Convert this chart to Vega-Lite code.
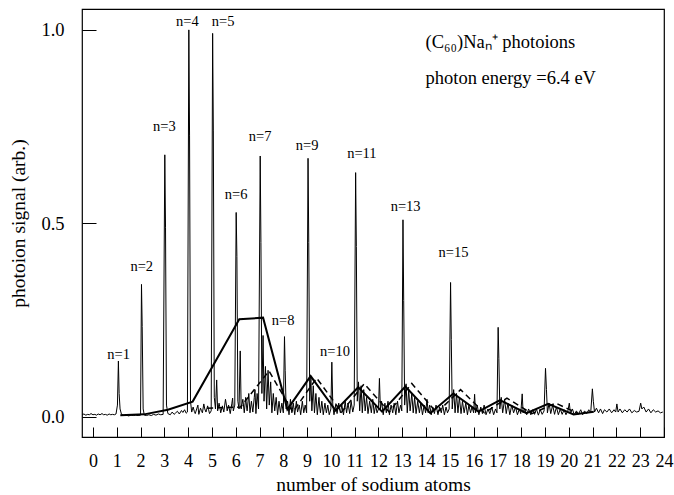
{
  "$schema": "https://vega.github.io/schema/vega-lite/v6.json",
  "width": 582,
  "height": 428,
  "autosize": {"type": "none"},
  "padding": {"left": 82, "top": 9, "right": 10, "bottom": 58},
  "background": "white",
  "config": {
    "view": {"stroke": "black", "strokeWidth": 1.2},
    "font": "Liberation Serif",
    "axis": {"grid": false, "domain": false, "tickColor": "black", "labelColor": "black", "titleColor": "black", "labelFont": "Liberation Serif", "titleFont": "Liberation Serif", "titleFontWeight": "normal", "labelFontSize": 18, "titleFontSize": 19.5}
  },
  "datasets": {
    "spectrum": [
      {"n": -0.45, "s": 0.005}, {"n": -0.38, "s": 0.007}, {"n": -0.3, "s": 0.004}, {"n": -0.22, "s": 0.006}, {"n": -0.15, "s": 0.005}, {"n": -0.08, "s": 0.008}, {"n": 0.0, "s": 0.005}, {"n": 0.08, "s": 0.006}, {"n": 0.15, "s": 0.004}, {"n": 0.22, "s": 0.007}, {"n": 0.3, "s": 0.005}, {"n": 0.38, "s": 0.008}, {"n": 0.45, "s": 0.005}, {"n": 0.52, "s": 0.006}, {"n": 0.6, "s": 0.004}, {"n": 0.68, "s": 0.007}, {"n": 0.75, "s": 0.005}, {"n": 0.82, "s": 0.006}, {"n": 0.9, "s": 0.005}, {"n": 0.97, "s": 0.007},
      {"n": 1.03, "s": 0.03}, {"n": 1.07, "s": 0.144}, {"n": 1.1, "s": 0.06}, {"n": 1.14, "s": 0.02}, {"n": 1.2, "s": 0.006}, {"n": 1.3, "s": 0.003}, {"n": 1.4, "s": 0.004}, {"n": 1.5, "s": 0.002}, {"n": 1.6, "s": 0.004}, {"n": 1.7, "s": 0.003}, {"n": 1.8, "s": 0.004}, {"n": 1.9, "s": 0.003}, {"n": 2.0, "s": 0.004},
      {"n": 2.04, "s": 0.342}, {"n": 2.07, "s": 0.233}, {"n": 2.11, "s": 0.02}, {"n": 2.16, "s": 0.004}, {"n": 2.25, "s": 0.003}, {"n": 2.35, "s": 0.005}, {"n": 2.45, "s": 0.003}, {"n": 2.55, "s": 0.006}, {"n": 2.65, "s": 0.004}, {"n": 2.75, "s": 0.007}, {"n": 2.85, "s": 0.005}, {"n": 2.95, "s": 0.006},
      {"n": 3.02, "s": 0.677}, {"n": 3.05, "s": 0.49}, {"n": 3.09, "s": 0.03}, {"n": 3.15, "s": 0.008}, {"n": 3.25, "s": 0.005}, {"n": 3.33, "s": 0.012}, {"n": 3.41, "s": 0.006}, {"n": 3.48, "s": 0.01}, {"n": 3.55, "s": 0.014}, {"n": 3.63, "s": 0.007}, {"n": 3.72, "s": 0.016}, {"n": 3.78, "s": 0.011}, {"n": 3.85, "s": 0.018}, {"n": 3.92, "s": 0.009}, {"n": 3.97, "s": 0.012},
      {"n": 4.03, "s": 1.0}, {"n": 4.06, "s": 0.728}, {"n": 4.1, "s": 0.04}, {"n": 4.15, "s": 0.012}, {"n": 4.21, "s": 0.025}, {"n": 4.26, "s": 0.014}, {"n": 4.3, "s": 0.008}, {"n": 4.36, "s": 0.02}, {"n": 4.41, "s": 0.03}, {"n": 4.45, "s": 0.006}, {"n": 4.52, "s": 0.022}, {"n": 4.56, "s": 0.016}, {"n": 4.6, "s": 0.01}, {"n": 4.66, "s": 0.033}, {"n": 4.7, "s": 0.02}, {"n": 4.75, "s": 0.012}, {"n": 4.82, "s": 0.028}, {"n": 4.86, "s": 0.018}, {"n": 4.9, "s": 0.008}, {"n": 4.97, "s": 0.015},
      {"n": 5.03, "s": 0.991}, {"n": 5.06, "s": 0.741}, {"n": 5.1, "s": 0.05}, {"n": 5.15, "s": 0.02}, {"n": 5.2, "s": 0.095}, {"n": 5.24, "s": 0.015}, {"n": 5.3, "s": 0.035}, {"n": 5.34, "s": 0.022}, {"n": 5.37, "s": 0.01}, {"n": 5.44, "s": 0.028}, {"n": 5.5, "s": 0.012}, {"n": 5.57, "s": 0.045}, {"n": 5.61, "s": 0.03}, {"n": 5.64, "s": 0.015}, {"n": 5.7, "s": 0.03}, {"n": 5.77, "s": 0.008}, {"n": 5.84, "s": 0.035}, {"n": 5.87, "s": 0.048}, {"n": 5.9, "s": 0.015}, {"n": 5.96, "s": 0.03},
      {"n": 6.02, "s": 0.528}, {"n": 6.05, "s": 0.414}, {"n": 6.09, "s": 0.04}, {"n": 6.14, "s": 0.02}, {"n": 6.19, "s": 0.17}, {"n": 6.23, "s": 0.02}, {"n": 6.3, "s": 0.045}, {"n": 6.36, "s": 0.01}, {"n": 6.42, "s": 0.05}, {"n": 6.45, "s": 0.03}, {"n": 6.48, "s": 0.015}, {"n": 6.55, "s": 0.06}, {"n": 6.6, "s": 0.01}, {"n": 6.66, "s": 0.04}, {"n": 6.72, "s": 0.012}, {"n": 6.78, "s": 0.05}, {"n": 6.81, "s": 0.07}, {"n": 6.85, "s": 0.008}, {"n": 6.9, "s": 0.06}, {"n": 6.96, "s": 0.02},
      {"n": 7.03, "s": 0.674}, {"n": 7.06, "s": 0.45}, {"n": 7.1, "s": 0.06}, {"n": 7.15, "s": 0.21}, {"n": 7.19, "s": 0.04}, {"n": 7.25, "s": 0.13}, {"n": 7.3, "s": 0.02}, {"n": 7.36, "s": 0.12}, {"n": 7.41, "s": 0.03}, {"n": 7.47, "s": 0.09}, {"n": 7.52, "s": 0.01}, {"n": 7.58, "s": 0.06}, {"n": 7.64, "s": 0.015}, {"n": 7.7, "s": 0.05}, {"n": 7.76, "s": 0.005}, {"n": 7.82, "s": 0.04}, {"n": 7.88, "s": 0.01}, {"n": 7.94, "s": 0.035}, {"n": 8.0, "s": 0.01},
      {"n": 8.05, "s": 0.207}, {"n": 8.08, "s": 0.12}, {"n": 8.12, "s": 0.02}, {"n": 8.18, "s": 0.04}, {"n": 8.24, "s": 0.005}, {"n": 8.3, "s": 0.045}, {"n": 8.33, "s": 0.028}, {"n": 8.36, "s": 0.01}, {"n": 8.42, "s": 0.035}, {"n": 8.48, "s": 0.005}, {"n": 8.55, "s": 0.04}, {"n": 8.6, "s": 0.012}, {"n": 8.67, "s": 0.03}, {"n": 8.7, "s": 0.018}, {"n": 8.73, "s": 0.005}, {"n": 8.8, "s": 0.04}, {"n": 8.86, "s": 0.01}, {"n": 8.92, "s": 0.03}, {"n": 8.98, "s": 0.01},
      {"n": 9.04, "s": 0.668}, {"n": 9.07, "s": 0.45}, {"n": 9.11, "s": 0.04}, {"n": 9.16, "s": 0.1}, {"n": 9.2, "s": 0.015}, {"n": 9.26, "s": 0.08}, {"n": 9.31, "s": 0.01}, {"n": 9.37, "s": 0.06}, {"n": 9.43, "s": 0.005}, {"n": 9.5, "s": 0.05}, {"n": 9.53, "s": 0.025}, {"n": 9.56, "s": 0.01}, {"n": 9.62, "s": 0.04}, {"n": 9.68, "s": 0.005}, {"n": 9.75, "s": 0.035}, {"n": 9.81, "s": 0.01}, {"n": 9.87, "s": 0.03}, {"n": 9.93, "s": 0.005}, {"n": 10.0, "s": 0.02},
      {"n": 10.04, "s": 0.141}, {"n": 10.08, "s": 0.03}, {"n": 10.13, "s": 0.005}, {"n": 10.2, "s": 0.03}, {"n": 10.26, "s": 0.008}, {"n": 10.33, "s": 0.035}, {"n": 10.36, "s": 0.02}, {"n": 10.4, "s": 0.01}, {"n": 10.46, "s": 0.03}, {"n": 10.53, "s": 0.005}, {"n": 10.6, "s": 0.04}, {"n": 10.66, "s": 0.01}, {"n": 10.72, "s": 0.035}, {"n": 10.79, "s": 0.008}, {"n": 10.85, "s": 0.04}, {"n": 10.92, "s": 0.012}, {"n": 10.98, "s": 0.03},
      {"n": 11.04, "s": 0.631}, {"n": 11.07, "s": 0.44}, {"n": 11.11, "s": 0.04}, {"n": 11.16, "s": 0.09}, {"n": 11.21, "s": 0.015}, {"n": 11.27, "s": 0.08}, {"n": 11.32, "s": 0.01}, {"n": 11.38, "s": 0.07}, {"n": 11.44, "s": 0.015}, {"n": 11.5, "s": 0.05}, {"n": 11.56, "s": 0.008}, {"n": 11.63, "s": 0.04}, {"n": 11.7, "s": 0.01}, {"n": 11.76, "s": 0.045}, {"n": 11.82, "s": 0.008}, {"n": 11.88, "s": 0.03}, {"n": 11.94, "s": 0.01}, {"n": 12.0, "s": 0.02},
      {"n": 12.04, "s": 0.099}, {"n": 12.08, "s": 0.02}, {"n": 12.13, "s": 0.04}, {"n": 12.2, "s": 0.005}, {"n": 12.27, "s": 0.035}, {"n": 12.33, "s": 0.01}, {"n": 12.4, "s": 0.04}, {"n": 12.46, "s": 0.005}, {"n": 12.53, "s": 0.03}, {"n": 12.6, "s": 0.01}, {"n": 12.66, "s": 0.035}, {"n": 12.73, "s": 0.005}, {"n": 12.8, "s": 0.04}, {"n": 12.86, "s": 0.01}, {"n": 12.93, "s": 0.03}, {"n": 12.98, "s": 0.015},
      {"n": 13.03, "s": 0.509}, {"n": 13.06, "s": 0.3}, {"n": 13.1, "s": 0.03}, {"n": 13.16, "s": 0.085}, {"n": 13.21, "s": 0.01}, {"n": 13.27, "s": 0.07}, {"n": 13.33, "s": 0.015}, {"n": 13.4, "s": 0.06}, {"n": 13.46, "s": 0.01}, {"n": 13.52, "s": 0.05}, {"n": 13.58, "s": 0.008}, {"n": 13.65, "s": 0.04}, {"n": 13.72, "s": 0.01}, {"n": 13.78, "s": 0.035}, {"n": 13.85, "s": 0.005}, {"n": 13.92, "s": 0.03}, {"n": 13.98, "s": 0.01},
      {"n": 14.04, "s": 0.045}, {"n": 14.09, "s": 0.01}, {"n": 14.15, "s": 0.03}, {"n": 14.22, "s": 0.005}, {"n": 14.28, "s": 0.025}, {"n": 14.35, "s": 0.008}, {"n": 14.42, "s": 0.03}, {"n": 14.5, "s": 0.005}, {"n": 14.57, "s": 0.025}, {"n": 14.64, "s": 0.01}, {"n": 14.7, "s": 0.03}, {"n": 14.77, "s": 0.005}, {"n": 14.84, "s": 0.025}, {"n": 14.9, "s": 0.01}, {"n": 14.97, "s": 0.02},
      {"n": 15.03, "s": 0.347}, {"n": 15.06, "s": 0.2}, {"n": 15.1, "s": 0.02}, {"n": 15.16, "s": 0.07}, {"n": 15.22, "s": 0.01}, {"n": 15.28, "s": 0.06}, {"n": 15.34, "s": 0.01}, {"n": 15.4, "s": 0.05}, {"n": 15.47, "s": 0.008}, {"n": 15.53, "s": 0.04}, {"n": 15.6, "s": 0.01}, {"n": 15.67, "s": 0.035}, {"n": 15.74, "s": 0.005}, {"n": 15.8, "s": 0.03}, {"n": 15.87, "s": 0.01}, {"n": 15.93, "s": 0.025}, {"n": 16.0, "s": 0.01},
      {"n": 16.04, "s": 0.058}, {"n": 16.08, "s": 0.01}, {"n": 16.15, "s": 0.03}, {"n": 16.22, "s": 0.005}, {"n": 16.3, "s": 0.025}, {"n": 16.37, "s": 0.008}, {"n": 16.44, "s": 0.03}, {"n": 16.52, "s": 0.005}, {"n": 16.6, "s": 0.02}, {"n": 16.68, "s": 0.008}, {"n": 16.76, "s": 0.025}, {"n": 16.84, "s": 0.005}, {"n": 16.92, "s": 0.02}, {"n": 16.98, "s": 0.01},
      {"n": 17.03, "s": 0.231}, {"n": 17.06, "s": 0.15}, {"n": 17.1, "s": 0.02}, {"n": 17.16, "s": 0.05}, {"n": 17.22, "s": 0.01}, {"n": 17.3, "s": 0.045}, {"n": 17.37, "s": 0.008}, {"n": 17.44, "s": 0.035}, {"n": 17.52, "s": 0.005}, {"n": 17.6, "s": 0.03}, {"n": 17.68, "s": 0.01}, {"n": 17.76, "s": 0.025}, {"n": 17.84, "s": 0.005}, {"n": 17.92, "s": 0.02}, {"n": 17.98, "s": 0.008},
      {"n": 18.04, "s": 0.059}, {"n": 18.08, "s": 0.01}, {"n": 18.15, "s": 0.02}, {"n": 18.23, "s": 0.005}, {"n": 18.31, "s": 0.02}, {"n": 18.4, "s": 0.005}, {"n": 18.48, "s": 0.018}, {"n": 18.56, "s": 0.006}, {"n": 18.64, "s": 0.02}, {"n": 18.72, "s": 0.004}, {"n": 18.8, "s": 0.018}, {"n": 18.88, "s": 0.006}, {"n": 18.96, "s": 0.015},
      {"n": 19.02, "s": 0.125}, {"n": 19.06, "s": 0.07}, {"n": 19.1, "s": 0.01}, {"n": 19.17, "s": 0.035}, {"n": 19.24, "s": 0.008}, {"n": 19.32, "s": 0.03}, {"n": 19.4, "s": 0.006}, {"n": 19.48, "s": 0.025}, {"n": 19.56, "s": 0.005}, {"n": 19.64, "s": 0.02}, {"n": 19.72, "s": 0.006}, {"n": 19.8, "s": 0.018}, {"n": 19.88, "s": 0.005}, {"n": 19.96, "s": 0.015},
      {"n": 20.02, "s": 0.035}, {"n": 20.07, "s": 0.008}, {"n": 20.15, "s": 0.02}, {"n": 20.23, "s": 0.005}, {"n": 20.32, "s": 0.015}, {"n": 20.4, "s": 0.006}, {"n": 20.5, "s": 0.018}, {"n": 20.58, "s": 0.005}, {"n": 20.66, "s": 0.015}, {"n": 20.75, "s": 0.008}, {"n": 20.84, "s": 0.018}, {"n": 20.92, "s": 0.01},
      {"n": 20.99, "s": 0.072}, {"n": 21.03, "s": 0.04}, {"n": 21.08, "s": 0.012}, {"n": 21.16, "s": 0.022}, {"n": 21.25, "s": 0.01}, {"n": 21.33, "s": 0.02}, {"n": 21.42, "s": 0.008}, {"n": 21.5, "s": 0.018}, {"n": 21.6, "s": 0.012}, {"n": 21.7, "s": 0.02}, {"n": 21.8, "s": 0.01}, {"n": 21.9, "s": 0.018}, {"n": 21.97, "s": 0.012},
      {"n": 22.02, "s": 0.033}, {"n": 22.07, "s": 0.012}, {"n": 22.15, "s": 0.02}, {"n": 22.25, "s": 0.01}, {"n": 22.35, "s": 0.018}, {"n": 22.45, "s": 0.012}, {"n": 22.55, "s": 0.02}, {"n": 22.65, "s": 0.01}, {"n": 22.75, "s": 0.016}, {"n": 22.85, "s": 0.012}, {"n": 22.95, "s": 0.014},
      {"n": 23.02, "s": 0.035}, {"n": 23.07, "s": 0.02}, {"n": 23.15, "s": 0.025}, {"n": 23.25, "s": 0.012}, {"n": 23.35, "s": 0.02}, {"n": 23.45, "s": 0.01}, {"n": 23.55, "s": 0.018}, {"n": 23.65, "s": 0.012}, {"n": 23.75, "s": 0.015}, {"n": 23.85, "s": 0.01}, {"n": 23.95, "s": 0.012}
    ],
    "solid": [
      {"n": 1.15, "s": 0.004}, {"n": 2.15, "s": 0.006}, {"n": 3.15, "s": 0.018}, {"n": 4.19, "s": 0.039}, {"n": 6.15, "s": 0.252}, {"n": 7.15, "s": 0.256}, {"n": 8.17, "s": 0.019}, {"n": 9.15, "s": 0.105}, {"n": 10.2, "s": 0.016}, {"n": 11.15, "s": 0.076}, {"n": 12.15, "s": 0.013}, {"n": 13.13, "s": 0.078}, {"n": 14.18, "s": 0.009}, {"n": 15.15, "s": 0.06}, {"n": 16.2, "s": 0.013}, {"n": 17.11, "s": 0.043}, {"n": 18.22, "s": 0.009}, {"n": 19.13, "s": 0.033}, {"n": 20.2, "s": 0.006}, {"n": 21.05, "s": 0.013}
    ],
    "dashed": [
      {"n": 4.8, "s": 0.022}, {"n": 6.2, "s": 0.025}, {"n": 7.4, "s": 0.118}, {"n": 8.4, "s": 0.012}, {"n": 9.4, "s": 0.1}, {"n": 10.45, "s": 0.012}, {"n": 11.4, "s": 0.085}, {"n": 12.45, "s": 0.012}, {"n": 13.4, "s": 0.086}, {"n": 14.45, "s": 0.01}, {"n": 15.45, "s": 0.07}, {"n": 16.45, "s": 0.01}, {"n": 17.4, "s": 0.048}, {"n": 18.45, "s": 0.008}, {"n": 19.45, "s": 0.035}, {"n": 20.4, "s": 0.008}
    ],
    "labels": [
      {"n": 1.08, "s": 0.16, "t": "n=1"}, {"n": 2.05, "s": 0.387, "t": "n=2"}, {"n": 3.0, "s": 0.749, "t": "n=3"}, {"n": 3.97, "s": 1.021, "t": "n=4"}, {"n": 5.47, "s": 1.021, "t": "n=5"}, {"n": 6.02, "s": 0.573, "t": "n=6"}, {"n": 7.03, "s": 0.723, "t": "n=7"}, {"n": 7.99, "s": 0.247, "t": "n=8"}, {"n": 9.0, "s": 0.70, "t": "n=9"}, {"n": 10.17, "s": 0.167, "t": "n=10"}, {"n": 11.3, "s": 0.68, "t": "n=11"}, {"n": 13.14, "s": 0.542, "t": "n=13"}, {"n": 15.15, "s": 0.423, "t": "n=15"}
    ],
    "notes": [
      {"n": 13.98, "s": 0.968, "t": "(C₆₀)Naₙ⁺ photoions"}, {"n": 13.98, "s": 0.876, "t": "photon energy =6.4 eV"}
    ]
  },
  "encoding": {
    "x": {"field": "n", "type": "quantitative", "scale": {"domain": [-0.46, 24], "nice": false, "zero": false},
      "axis": {"values": [0,1,2,3,4,5,6,7,8,9,10,11,12,13,14,15,16,17,18,19,20,21,22,23,24], "tickCount": 25, "tickSize": -10, "labelPadding": 25, "title": "number of sodium atoms", "titlePadding": 5, "labelFlush": false, "labelOverlap": false, "labelBound": false}},
    "y": {"field": "s", "type": "quantitative", "scale": {"domain": [-0.0525, 1.054], "nice": false, "zero": false},
      "axis": {"values": [0, 0.5, 1], "format": ".1f", "tickSize": -14, "labelPadding": 32, "labelFontSize": 18.5, "title": "photoion signal (arb.)", "titlePadding": 12}}
  },
  "layer": [
    {
      "data": {"name": "spectrum"},
      "mark": {"type": "line", "color": "black", "strokeWidth": 1, "clip": true}
    },
    {
      "data": {"name": "solid"},
      "mark": {"type": "line", "color": "black", "strokeWidth": 2, "clip": true}
    },
    {
      "data": {"name": "dashed"},
      "mark": {"type": "line", "color": "black", "strokeWidth": 1.5, "strokeDash": [6, 4], "clip": true}
    },
    {
      "data": {"name": "labels"},
      "mark": {"type": "text", "font": "Liberation Serif", "fontSize": 14.5, "color": "black", "align": "center", "baseline": "middle"},
      "encoding": {"text": {"field": "t"}}
    },
    {
      "data": {"name": "notes"},
      "mark": {"type": "text", "font": "Liberation Serif", "fontSize": 18.5, "color": "black", "align": "left", "baseline": "middle"},
      "encoding": {"text": {"field": "t"}}
    }
  ]
}
